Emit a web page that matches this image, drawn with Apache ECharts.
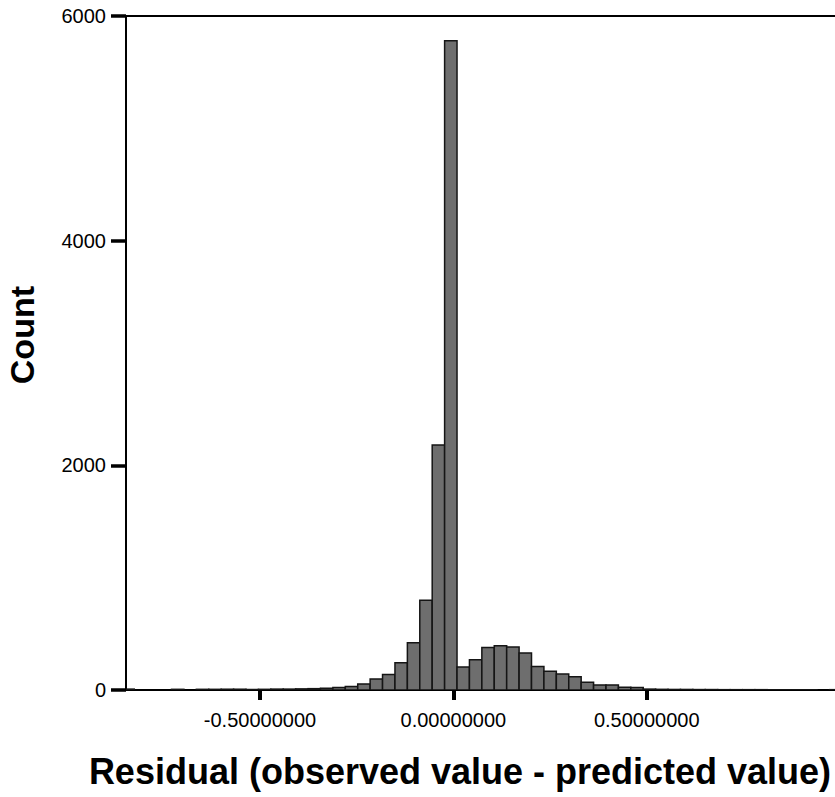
<!DOCTYPE html>
<html>
<head>
<meta charset="utf-8">
<script src="https://cdn.jsdelivr.net/npm/echarts@6/dist/echarts.min.js"></script>
<style>
html,body{margin:0;padding:0;background:#fff;}
#chart{width:835px;height:797px;}
</style>
</head>
<body>
<div id="chart"></div>
<script>
// Histogram bins: left edge of first bin and bin width (residual units)
const firstBinEdge = -0.8572;
const binWidth = 0.0321;
// Counts per bin, left to right
const counts = [
  8, 0, 0, 0, 6, 0, 6, 6, 7, 7,
  5, 6, 8, 8, 10, 12, 15, 22, 32, 54,
  98, 138, 243, 420, 800, 2180, 5780, 205, 270, 378,
  395, 382, 330, 210, 168, 142, 118, 70, 45, 45,
  25, 22, 8, 6, 5, 5, 4, 4, 3, 3,
  3, 3, 2, 2, 2, 2, 0, 3
];
const xTickValues = [-0.5, 0, 0.5];
const yTickValues = [0, 2000, 4000, 6000];
const xAxisTitle = 'Residual (observed value - predicted value)';
const yAxisTitle = 'Count';

const histData = counts.map((c, i) => [firstBinEdge + i * binWidth, firstBinEdge + (i + 1) * binWidth, c]);

const chart = echarts.init(document.getElementById('chart'), null, {renderer: 'svg'});
const FONT = '"Liberation Sans", Arial, Helvetica, sans-serif';

chart.setOption({
  backgroundColor: '#ffffff',
  animation: false,
  grid: {left: 126, width: 716, top: 16, height: 674, show: true, borderColor: '#000', borderWidth: 2,
    backgroundColor: 'transparent', containLabel: false, outerBoundsMode: 'none'},
  xAxis: {
    type: 'value', min: -0.8465, max: 1.005,
    axisLine: {show: true, onZero: false, lineStyle: {color: '#000', width: 2}},
    axisTick: {show: true, customValues: xTickValues, length: 10, lineStyle: {color: '#000', width: 4}},
    axisLabel: {show: true, customValues: xTickValues, formatter: v => v.toFixed(8), fontSize: 20, color: '#000', fontFamily: FONT, margin: 20},
    splitLine: {show: false}
  },
  yAxis: {
    type: 'value', min: 0, max: 6000, interval: 2000,
    axisLine: {show: true, onZero: false, lineStyle: {color: '#000', width: 2}},
    axisTick: {show: true, length: 15, lineStyle: {color: '#000', width: 3.5}},
    axisLabel: {show: true, fontSize: 20, color: '#000', fontFamily: FONT, margin: 20,
      formatter: v => yTickValues.includes(v) ? String(v) : ''},
    splitLine: {show: false}
  },
  series: [{
    type: 'custom',
    clip: true,
    data: histData,
    encode: {x: [0, 1], y: 2},
    renderItem: function (params, api) {
      const c = api.value(2);
      if (!c) return null;
      const p0 = api.coord([api.value(0), 0]);
      const p1 = api.coord([api.value(1), c]);
      const rect = echarts.graphic.clipRectByRect(
        {x: p0[0], y: p1[1], width: p1[0] - p0[0], height: p0[1] - p1[1]},
        {x: params.coordSys.x, y: params.coordSys.y, width: params.coordSys.width, height: params.coordSys.height}
      );
      if (!rect) return null;
      return {type: 'rect', shape: rect, style: {fill: '#6e6e6e', stroke: '#151515', lineWidth: 1.5}};
    }
  }],
  graphic: [
    {type: 'text', left: 5, top: 286, rotation: Math.PI / 2, originX: 0, originY: 0,
      style: {text: yAxisTitle, font: 'bold 34px ' + FONT, fill: '#000'}},
    {type: 'text', x: 460, y: 771,
      style: {text: xAxisTitle, font: 'bold 36px ' + FONT, fill: '#000', textAlign: 'center', textVerticalAlign: 'middle'}}
  ]
});
</script>
</body>
</html>
